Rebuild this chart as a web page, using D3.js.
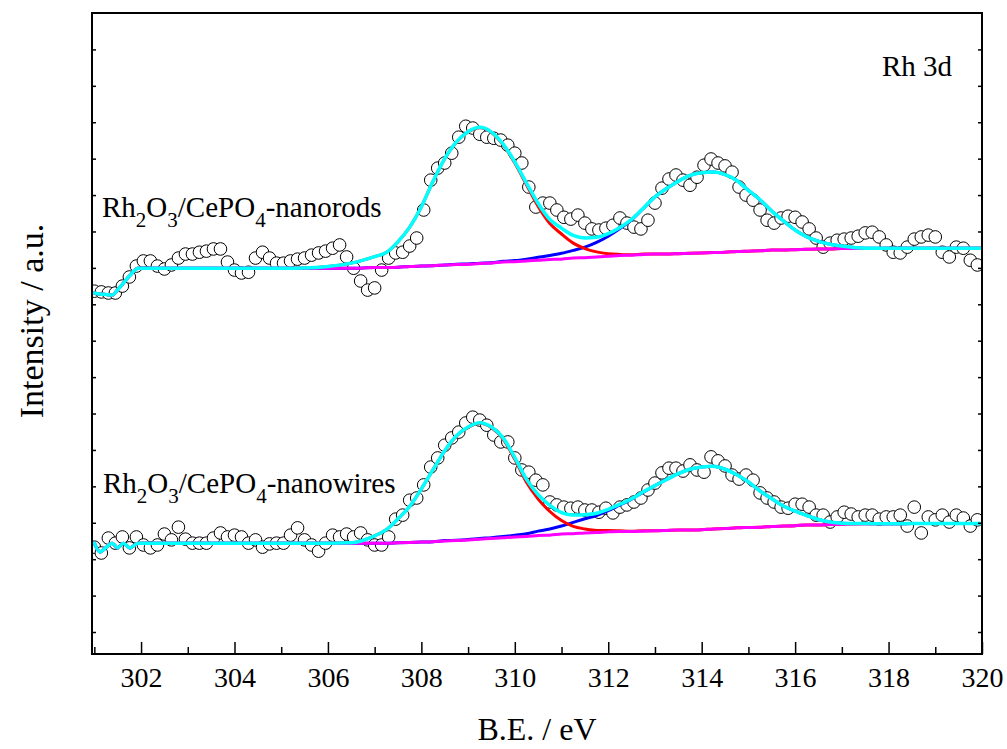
<!DOCTYPE html>
<html>
<head>
<meta charset="utf-8">
<title>Rh 3d XPS</title>
<script src="https://cdn.jsdelivr.net/npm/d3@7"></script>
<style>
  body { margin: 0; background: #fff; }
  text { font-family: "Liberation Serif", "Times New Roman", serif; fill: #000; }
  .frame { fill: none; stroke: #000; stroke-width: 2px; }
  .tick line { stroke: #000; stroke-width: 1.5px; }
  .pt { fill: #fff; stroke: #000; stroke-width: 1px; }
  .fit { fill: none; stroke-linejoin: round; stroke-linecap: round; }
</style>
</head>
<body>
<svg id="chart" width="1007" height="749"></svg>
<script>
// measured points: B.E. starts at 301.0 eV, one point every 0.15 eV
var beStart = 301.0, beStep = 0.15;

var rodsCounts = [
  9.36, 9.34, 9.31, 9.31, 9.50, 9.75, 10.05, 10.19, 10.19, 10.05,
  9.97, 10.08, 10.27, 10.38, 10.38, 10.43, 10.46, 10.52, 10.52, 10.16,
  9.94, 9.86, 9.88, 10.27, 10.43, 10.27, 10.13, 10.13, 10.19, 10.24,
  10.27, 10.35, 10.41, 10.46, 10.54, 10.63, 10.30, 9.99, 9.64, 9.39,
  9.45, 9.94, 10.27, 10.41, 10.43, 10.60, 10.82, 11.59, 12.41, 12.74,
  12.88, 13.15, 13.59, 13.89, 13.84, 13.67, 13.59, 13.56, 13.51, 13.37,
  13.15, 12.88, 12.22, 11.67, 11.78, 11.78, 11.59, 11.39, 11.34, 11.45,
  11.23, 11.07, 11.04, 11.09, 11.17, 11.37, 11.23, 11.12, 11.07, 11.31,
  11.78, 12.19, 12.44, 12.55, 12.41, 12.27, 12.49, 12.82, 12.99, 12.88,
  12.80, 12.63, 12.22, 12.00, 11.86, 11.59, 11.31, 11.23, 11.37, 11.42,
  11.39, 11.26, 11.07, 10.82, 10.57, 10.68, 10.76, 10.79, 10.82, 10.87,
  10.96, 10.98, 10.85, 10.63, 10.43, 10.41, 10.57, 10.79, 10.85, 10.90,
  10.85, 10.43, 10.30, 10.57, 10.54, 10.21, 10.08
];

var wiresCounts = [
  2.33, 2.17, 2.58, 2.44, 2.61, 2.31, 2.61, 2.39, 2.31, 2.39,
  2.69, 2.53, 2.88, 2.55, 2.44, 2.44, 2.44, 2.58, 2.72, 2.61,
  2.66, 2.61, 2.44, 2.53, 2.33, 2.42, 2.44, 2.44, 2.66, 2.86,
  2.53, 2.39, 2.22, 2.44, 2.66, 2.61, 2.69, 2.61, 2.72, 2.53,
  2.39, 2.39, 2.61, 3.10, 3.21, 3.62, 3.68, 4.04, 4.53, 4.78,
  5.13, 5.33, 5.49, 5.74, 5.90, 5.82, 5.68, 5.41, 5.22, 5.22,
  4.78, 4.45, 4.39, 4.17, 4.04, 3.57, 3.49, 3.43, 3.40, 3.43,
  3.35, 3.35, 3.29, 3.40, 3.27, 3.43, 3.49, 3.57, 3.68, 3.90,
  4.09, 4.37, 4.50, 4.50, 4.42, 4.59, 4.45, 4.39, 4.81, 4.70,
  4.56, 4.31, 4.20, 4.31, 4.17, 3.82, 3.68, 3.57, 3.43, 3.40,
  3.51, 3.51, 3.43, 3.21, 3.21, 3.02, 3.16, 3.29, 3.24, 3.16,
  3.21, 3.21, 3.10, 3.16, 3.16, 3.21, 2.91, 3.43, 2.72, 3.16,
  3.08, 3.21, 3.02, 3.21, 3.13, 2.91, 3.08
];

// fitted components, all on the same B.E. grid
var fitBE = [
  301.0, 301.12, 301.25, 301.38, 301.5, 301.62, 301.76, 301.94, 302.2, 302.6,
  303, 303.5, 304, 304.5, 305, 305.5, 306, 306.5,
  307, 307.25, 307.5, 307.75, 308, 308.25, 308.5, 308.75, 309, 309.25,
  309.5, 309.75, 310, 310.25, 310.5, 310.75, 311, 311.25, 311.5, 311.75,
  312, 312.25, 312.5, 312.75, 313, 313.25, 313.5, 313.75, 314, 314.25,
  314.5, 314.75, 315, 315.25, 315.5, 315.75, 316, 316.25, 316.5, 316.75,
  317, 317.5, 318, 318.5, 319, 319.5, 320
];

var rodsBackground = [
  9.31, 9.28, 9.27, 9.25, 9.40, 9.58, 9.79, 9.99, 9.99, 9.99,
  9.99, 9.99, 9.99, 9.99, 9.99, 9.99, 9.99, 9.99,
  10.01, 10.01, 10.02, 10.04, 10.05, 10.06, 10.08, 10.09, 10.10, 10.12,
  10.13, 10.16, 10.17, 10.19, 10.21, 10.23, 10.24, 10.27, 10.28, 10.30,
  10.32, 10.34, 10.35, 10.37, 10.38, 10.38, 10.39, 10.40, 10.41, 10.42,
  10.43, 10.45, 10.46, 10.47, 10.49, 10.49, 10.50, 10.51, 10.52, 10.52,
  10.53, 10.53, 10.54, 10.54, 10.54, 10.54, 10.54
];
var rodsPeak1 = [
  0, 0, 0, 0, 0, 0, 0, 0, 0, 0,
  0, 0, 0, 0, 0, 0.01, 0.05, 0.14,
  0.30, 0.41, 0.70, 1.08, 1.63, 2.32, 2.92, 3.36, 3.63, 3.73,
  3.59, 3.22, 2.71, 2.09, 1.48, 0.99, 0.69, 0.41, 0.25, 0.14,
  0.07, 0.03, 0.01, 0.01, 0, 0, 0, 0, 0, 0,
  0, 0, 0, 0, 0, 0, 0, 0, 0, 0,
  0, 0, 0, 0, 0, 0, 0
];
var rodsPeak2 = [
  0, 0, 0, 0, 0, 0, 0, 0, 0, 0,
  0, 0, 0, 0, 0, 0, 0, 0,
  0, 0, 0, 0, 0, 0, 0, 0.01, 0.01, 0.01,
  0.01, 0.02, 0.03, 0.05, 0.08, 0.11, 0.16, 0.21, 0.29, 0.40,
  0.55, 0.74, 0.97, 1.26, 1.57, 1.80, 1.99, 2.14, 2.20, 2.21,
  2.13, 1.95, 1.67, 1.40, 1.07, 0.80, 0.54, 0.34, 0.21, 0.13,
  0.07, 0.01, 0, 0, 0, 0, 0
];

var wiresBackground = [
  2.44, 2.20, 2.32, 2.44, 2.31, 2.44, 2.31, 2.44, 2.44, 2.44,
  2.44, 2.44, 2.44, 2.44, 2.44, 2.44, 2.44, 2.44,
  2.44, 2.44, 2.45, 2.46, 2.47, 2.48, 2.50, 2.51, 2.53, 2.55,
  2.57, 2.59, 2.61, 2.62, 2.65, 2.66, 2.69, 2.70, 2.72, 2.73,
  2.75, 2.76, 2.76, 2.77, 2.78, 2.79, 2.80, 2.80, 2.81, 2.83,
  2.84, 2.86, 2.87, 2.88, 2.90, 2.91, 2.92, 2.94, 2.94, 2.95,
  2.96, 2.97, 2.97, 2.98, 2.98, 2.98, 2.98
];
var wiresPeak1 = [
  0, 0, 0, 0, 0, 0, 0, 0, 0, 0,
  0, 0, 0, 0, 0, 0, 0, 0.01,
  0.20, 0.37, 0.66, 0.99, 1.46, 1.98, 2.47, 2.87, 3.09, 3.18,
  3.04, 2.71, 2.13, 1.49, 1.00, 0.65, 0.37, 0.20, 0.11, 0.06,
  0.04, 0.02, 0.01, 0.01, 0, 0, 0, 0, 0, 0,
  0, 0, 0, 0, 0, 0, 0, 0, 0, 0,
  0, 0, 0, 0, 0, 0, 0
];
var wiresPeak2 = [
  0, 0, 0, 0, 0, 0, 0, 0, 0, 0,
  0, 0, 0, 0, 0, 0, 0, 0,
  0, 0, 0, 0, 0, 0, 0.01, 0.01, 0.01, 0.02,
  0.02, 0.03, 0.05, 0.08, 0.12, 0.17, 0.22, 0.31, 0.39, 0.47,
  0.58, 0.73, 0.89, 1.07, 1.24, 1.40, 1.55, 1.67, 1.72, 1.72,
  1.63, 1.46, 1.25, 0.99, 0.76, 0.55, 0.40, 0.26, 0.15, 0.07,
  0.03, 0.01, 0, 0, 0, 0, 0
];

var xMajorTicks = [302, 304, 306, 308, 310, 312, 314, 316, 318, 320];
var xMinorTicks = [301, 303, 305, 307, 309, 311, 313, 315, 317, 319];
var yTicks = d3.range(0, 17);

// sample labels: [text, isSubscript]
var rodsLabel = [["Rh", 0], ["2", 1], ["O", 0], ["3", 1], ["/CePO", 0], ["4", 1], ["-nanorods", 0]];
var wiresLabel = [["Rh", 0], ["2", 1], ["O", 0], ["3", 1], ["/CePO", 0], ["4", 1], ["-nanowires", 0]];

var serif = '"Liberation Serif", "Times New Roman", serif';
var margin = {left: 92, right: 25, top: 13, bottom: 95};
var width = 1007, height = 749;
var svg = d3.select("#chart");

var x = d3.scaleLinear().domain([300.95, 320]).range([margin.left, width - margin.right]);
var y = d3.scaleLinear().domain([-0.604, 17]).range([height - margin.bottom, margin.top]);

svg.append("clipPath").attr("id", "plotclip")
  .append("rect")
  .attr("x", x.range()[0]).attr("y", y.range()[1])
  .attr("width", x.range()[1] - x.range()[0])
  .attr("height", y.range()[0] - y.range()[1]);

var plot = svg.append("g").attr("clip-path", "url(#plotclip)");

function drawSpectrum(counts, bg, p1, p2) {
  var pts = counts.map(function(v, i) { return {be: beStart + i * beStep, v: v}; });
  plot.append("g").selectAll("circle")
    .data(pts)
    .enter().append("circle")
    .attr("class", "pt")
    .attr("cx", function(d) { return x(d.be); })
    .attr("cy", function(d) { return y(d.v); })
    .attr("r", 6.3);

  var line = d3.line()
    .x(function(d, i) { return x(fitBE[i]); })
    .y(function(d) { return y(d); })
    .curve(d3.curveMonotoneX);

  var comp1 = bg.map(function(b, i) { return b + p1[i]; });
  var comp2 = bg.map(function(b, i) { return b + p2[i]; });
  var envelope = bg.map(function(b, i) { return b + p1[i] + p2[i]; });

  plot.append("path").datum(comp2).attr("class", "fit").attr("d", line)
    .attr("stroke", "#0000ff").attr("stroke-width", 3);
  plot.append("path").datum(comp1).attr("class", "fit").attr("d", line)
    .attr("stroke", "#ff0000").attr("stroke-width", 3);
  plot.append("path").datum(bg).attr("class", "fit").attr("d", line)
    .attr("stroke", "#ff00ff").attr("stroke-width", 3);
  plot.append("path").datum(envelope).attr("class", "fit").attr("d", line)
    .attr("stroke", "#00ffff").attr("stroke-width", 3.5);
}

drawSpectrum(rodsCounts, rodsBackground, rodsPeak1, rodsPeak2);
drawSpectrum(wiresCounts, wiresBackground, wiresPeak1, wiresPeak2);

// axes, ticks pointing inward
var bottomY = y.range()[0];
svg.append("g")
  .attr("transform", "translate(0," + bottomY + ")")
  .call(d3.axisBottom(x).tickValues(xMajorTicks).tickSizeInner(-12).tickSizeOuter(0).tickPadding(13))
  .call(function(g) { g.select(".domain").remove(); })
  .call(function(g) {
    g.selectAll("text").style("font-family", serif).style("font-size", "28px");
  });

svg.append("g")
  .attr("transform", "translate(0," + bottomY + ")")
  .call(d3.axisBottom(x).tickValues(xMinorTicks).tickSizeInner(-7).tickSizeOuter(0).tickFormat(""))
  .call(function(g) { g.select(".domain").remove(); });

svg.append("g")
  .attr("transform", "translate(" + x.range()[0] + ",0)")
  .call(d3.axisLeft(y).tickValues(yTicks).tickSizeInner(-4).tickSizeOuter(0).tickFormat(""))
  .call(function(g) { g.select(".domain").remove(); });

svg.append("g")
  .attr("transform", "translate(" + x.range()[1] + ",0)")
  .call(d3.axisRight(y).tickValues(yTicks).tickSizeInner(-4).tickSizeOuter(0).tickFormat(""))
  .call(function(g) { g.select(".domain").remove(); });

svg.append("rect").attr("class", "frame")
  .attr("x", x.range()[0]).attr("y", y.range()[1])
  .attr("width", x.range()[1] - x.range()[0])
  .attr("height", y.range()[0] - y.range()[1]);

// titles
svg.append("text")
  .attr("x", 537).attr("y", 740)
  .attr("text-anchor", "middle").style("font-size", "32px")
  .text("B.E. / eV");

svg.append("text")
  .attr("transform", "translate(43,321) rotate(-90)")
  .attr("text-anchor", "middle").style("font-size", "34px")
  .text("Intensity / a.u.");

svg.append("text")
  .attr("x", 882).attr("y", 76).style("font-size", "29px")
  .text("Rh 3d");

function sampleLabel(parts, px, py) {
  var t = svg.append("text").attr("x", px).attr("y", py).style("font-size", "29px");
  var shifted = false;
  parts.forEach(function(p) {
    var s = t.append("tspan").text(p[0]);
    if (p[1] && !shifted) { s.attr("dy", 10).style("font-size", "21px"); shifted = true; }
    else if (p[1]) { s.style("font-size", "21px"); }
    else if (shifted) { s.attr("dy", -10); shifted = false; }
  });
}

sampleLabel(rodsLabel, 102, 217);
sampleLabel(wiresLabel, 103, 493);
</script>
</body>
</html>
